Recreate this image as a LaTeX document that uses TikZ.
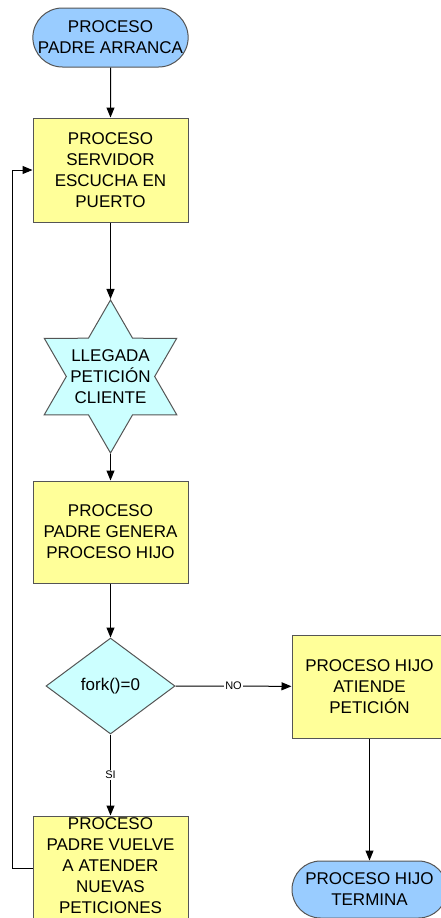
\documentclass[tikz,border=0pt]{standalone}
\usepackage{fontspec}
\setmainfont{Liberation Sans}
\usetikzlibrary{arrows.meta,shapes.geometric,shapes.misc}
\definecolor{boxyellow}{HTML}{FFFF99}
\definecolor{termblue}{HTML}{99CCFF}
\definecolor{eventcyan}{HTML}{CCFFFF}
\definecolor{edgegray}{HTML}{555555}
\tikzset{
  base/.style={draw=edgegray, line width=1pt, inner sep=0pt, align=center,
    font=\fontsize{17pt}{21pt}\selectfont},
  procbox/.style={base, rectangle, fill=boxyellow, minimum width=155pt},
  terminal/.style={base, rounded rectangle, fill=termblue, minimum width=155pt},
  event/.style={draw=edgegray, line width=1pt, star, star points=6,
    star point ratio=1.732, fill=eventcyan, inner sep=0pt, minimum size=153pt},
  decision/.style={base, diamond, fill=eventcyan, minimum width=129pt, minimum height=96pt},
  txt/.style={align=center, inner sep=0pt, font=\fontsize{17pt}{21pt}\selectfont},
  arr/.style={line width=1pt, -{Triangle[length=10pt,width=8pt]}},
  edgelbl/.style={fill=white, inner sep=1pt, font=\fontsize{11pt}{13pt}\selectfont}
}
\begin{document}
\begin{tikzpicture}[x=1pt,y=-1pt]
\useasboundingbox (0,0) rectangle (440,918);

% left column
\node[terminal, minimum height=59pt] (start) at (110.5,37.5) {PROCESO\\PADRE ARRANCA};
\node[procbox, minimum height=104pt] (listen) at (110.5,170) {PROCESO\\SERVIDOR\\ESCUCHA EN\\PUERTO};
\node[event] (req) at (110.5,376.5) {};
\node[txt] (reqtxt) at (110.5,376.5) {LLEGADA\\PETICIÓN\\CLIENTE};
\node[procbox, minimum height=102pt] (spawn) at (110.5,532) {PROCESO\\PADRE GENERA\\PROCESO HIJO};
\node[decision] (fork) at (110.5,686) {};
\node[txt] (forktxt) at (110.5,686) {fork()=0};
\node[procbox, minimum height=105pt] (back) at (110.5,868.5) {};
\node[txt] (backtxt) at (110.5,866) {PROCESO\\PADRE VUELVE\\A ATENDER\\NUEVAS\\PETICIONES};

% right column
\node[procbox, minimum height=103pt] (child) at (369.5,686.5) {PROCESO HIJO\\ATIENDE\\PETICIÓN};
\node[terminal, minimum height=57pt] (childend) at (369.5,889.5) {PROCESO HIJO\\TERMINA};

% connectors
\draw[arr] (start) -- (listen);
\draw[arr] (listen) -- (req.north);
\draw[arr] (req.south) -- (spawn);
\draw[arr] (spawn) -- (fork.north);
\draw[arr] (fork.east) -- node[edgelbl] {NO} (child);
\draw[arr] (fork.south) -- node[edgelbl, pos=0.5] {SI} (back);
\draw[arr] (child) -- (childend);
\draw[arr] (back.west) -- ++(-20,0) |- (listen.west);
\end{tikzpicture}
\end{document}
